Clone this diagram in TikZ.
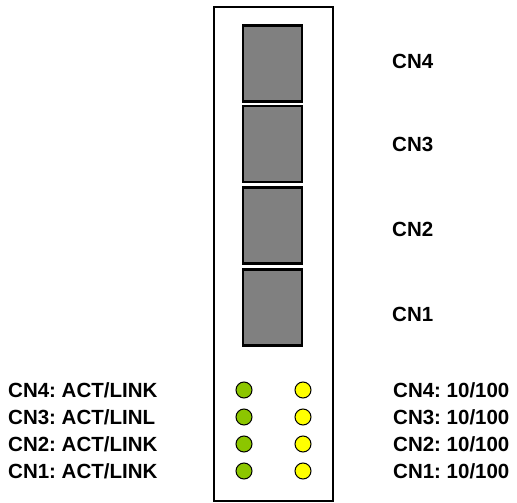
\documentclass[tikz,border=0pt]{standalone}
\usepackage{fontspec}
\setmainfont{Liberation Sans}
\frenchspacing
\definecolor{ledgreen}{RGB}{140,198,0}
\definecolor{ledyellow}{RGB}{255,255,0}
\definecolor{portgray}{RGB}{128,128,128}
\begin{document}
\begin{tikzpicture}[x=1pt,y=-1pt,
  port/.style={draw=black,line width=2.5pt,fill=portgray,minimum width=59pt,minimum height=76pt,inner sep=0pt},
  gled/.style={circle,draw=black,line width=1pt,fill=ledgreen,minimum size=16pt,inner sep=0pt},
  yled/.style={circle,draw=black,line width=1pt,fill=ledyellow,minimum size=16pt,inner sep=0pt},
  lbl/.style={font=\bfseries\fontsize{20.5}{24}\selectfont,inner sep=0pt}]
\useasboundingbox (0,0) rectangle (517,503);
\node[draw=black,line width=1.5pt,minimum width=119pt,minimum height=494pt,inner sep=0pt] (panel) at (273.5,254) {};
\node[port] (p4) at (272.5,63.5) {};
\node[port] (p3) at (272.5,144) {};
\node[port] (p2) at (272.5,225.5) {};
\node[port] (p1) at (272.5,307.5) {};
\node[lbl,anchor=west] (l4) at (392,61) {CN4};
\node[lbl,anchor=west] (l3) at (392,144) {CN3};
\node[lbl,anchor=west] (l2) at (392,229) {CN2};
\node[lbl,anchor=west] (l1) at (392,314) {CN1};
\foreach \n/\y in {4/390,3/417,2/444,1/471}{
  \node[gled] (g\n) at (244,\y) {};
  \node[yled] (y\n) at (303,\y) {};
}
\node[lbl,anchor=west] (a4) at (8,390) {CN4: ACT/LINK};
\node[lbl,anchor=west] (a3) at (8,417) {CN3: ACT/LINL};
\node[lbl,anchor=west] (a2) at (8,444) {CN2: ACT/LINK};
\node[lbl,anchor=west] (a1) at (8,471) {CN1: ACT/LINK};
\node[lbl,anchor=west] (s4) at (393,390) {CN4: 10/100};
\node[lbl,anchor=west] (s3) at (393,417) {CN3: 10/100};
\node[lbl,anchor=west] (s2) at (393,444) {CN2: 10/100};
\node[lbl,anchor=west] (s1) at (393,471) {CN1: 10/100};
\end{tikzpicture}
\end{document}
